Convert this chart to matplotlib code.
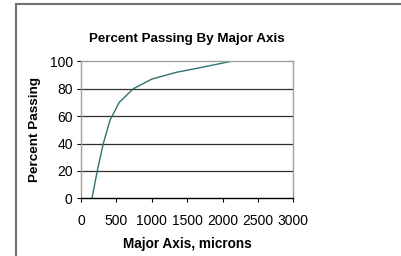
import matplotlib
matplotlib.use("Agg")
from matplotlib import pyplot as plt
from matplotlib.patches import Rectangle

# percent passing curve
major_axis = [155, 230, 315, 410, 540, 740, 1000, 1350, 1650, 2125]
percent_passing = [0, 20, 40, 57, 70, 80, 87, 92, 95, 100]

xticks = [0, 500, 1000, 1500, 2000, 2500, 3000]
yticks = [0, 20, 40, 60, 80, 100]

plt.rcParams['font.family'] = ['Liberation Sans', 'DejaVu Sans']

fig = plt.figure(figsize=(4.01, 2.56), dpi=100)
fig.patches.append(Rectangle((16 / 401, -0.1), 1.2, 1 - 4 / 256 + 0.1,
                             transform=fig.transFigure, fill=False,
                             edgecolor='#707070', linewidth=1.5))

ax = fig.add_axes([81 / 401, 1 - 198.3 / 256, 212.3 / 401, 137 / 256])
ax.plot(major_axis, percent_passing, color='#2e7272', linewidth=1.0)

ax.set_xlim(0, 3000)
ax.set_ylim(0, 100)
ax.set_xticks(xticks)
ax.set_yticks(yticks)
ax.set_xticklabels([str(t) for t in xticks], fontsize=10)
ax.set_yticklabels([str(t) for t in yticks], fontsize=10)

for y in yticks[1:-1]:
    ax.axhline(y, color='#303030', linewidth=0.9, zorder=0)

for side in ['top', 'right', 'left']:
    ax.spines[side].set_color('#a0a0a0')
    ax.spines[side].set_linewidth(1.0)
ax.spines['bottom'].set_color('black')
ax.spines['bottom'].set_linewidth(1.0)

ax.tick_params(axis='x', direction='out', length=3, width=0.8, pad=8, colors='black')
ax.tick_params(axis='y', direction='out', length=3, width=0.8, pad=3, colors='black')

ax.set_title("Percent Passing By Major Axis", fontsize=9.6, fontweight='bold', pad=14)
ax.set_xlabel("Major Axis, microns", fontsize=9.8, fontweight='bold', labelpad=7)
ax.set_ylabel("Percent Passing", fontsize=9.7, fontweight='bold', labelpad=6)

fig.savefig("out.png", dpi=100)
